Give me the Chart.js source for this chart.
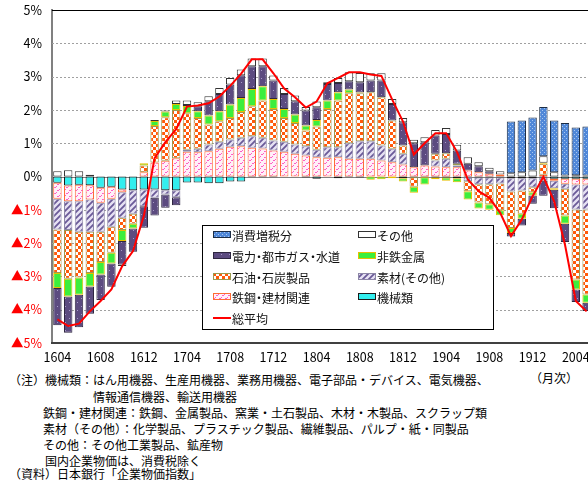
<!DOCTYPE html>
<html lang="ja">
<head>
<meta charset="utf-8">
<title>国内企業物価指数 前年比寄与度</title>
<script src="https://cdn.jsdelivr.net/npm/chart.js@4.4.1/dist/chart.umd.min.js"></script>
<style>
    html, body { margin: 0; padding: 0; background: #fff; }
    body { width: 588px; height: 481px; overflow: hidden; position: relative; font-family: "Noto Sans CJK JP", sans-serif; }
    #chartWrap { position: absolute; left: 0; top: 0; width: 600px; height: 367px; }
    .note { position: absolute; font-size: 12px; line-height: 16px; white-space: nowrap; color: #000; }
</style>
</head>
<body>
<div id="chartWrap"><canvas id="priceChart" width="600" height="367"></canvas></div>

<div class="note" style="left:9px; top:372px;">（注）機械類：はん用機器、生産用機器、業務用機器、電子部品・デバイス、電気機器、</div>
<div class="note" style="left:530px; top:370px;">（月次）</div>
<div class="note" style="left:93px; top:389px;">情報通信機器、輸送用機器</div>
<div class="note" style="left:43px; top:405px;">鉄鋼・建材関連：鉄鋼、金属製品、窯業・土石製品、木材・木製品、スクラップ類</div>
<div class="note" style="left:43px; top:421px;">素材（その他）：化学製品、プラスチック製品、繊維製品、パルプ・紙・同製品</div>
<div class="note" style="left:43px; top:437px;">その他：その他工業製品、鉱産物</div>
<div class="note" style="left:45px; top:453px;">国内企業物価は、消費税除く</div>
<div class="note" style="left:9px; top:466px;">（資料）日本銀行「企業物価指数」</div>

<script>
// months on the category axis (yymm)
const months = [
    '1604', '1605', '1606', '1607', '1608', '1609', '1610', '1611', '1612',
    '1701', '1702', '1703', '1704', '1705', '1706', '1707', '1708', '1709', '1710', '1711', '1712',
    '1801', '1802', '1803', '1804', '1805', '1806', '1807', '1808', '1809', '1810', '1811', '1812',
    '1901', '1902', '1903', '1904', '1905', '1906', '1907', '1908', '1909', '1910', '1911', '1912',
    '2001', '2002', '2003', '2004', '2005'
];
const tickMonths = ['1604', '1608', '1612', '1704', '1708', '1712', '1804', '1808', '1812', '1904', '1908', '1912', '2004'];

// contributions (% points)
const machinery = [
    -0.19, -0.27, -0.25, -0.26, -0.34, -0.31, -0.39, -0.41, -0.39, -0.39,
    -0.41, -0.41, -0.18, -0.18, -0.20, -0.20, -0.15, -0.15, -0.02, -0.02,
    -0.02, 0, 0, -0.03, -0.07, 0, -0.05, -0.02, -0.03, 0,
    0, 0, -0.05, -0.02, -0.02, -0.03, -0.03, -0.05, -0.02, -0.03,
    -0.03, -0.03, -0.05, -0.05, -0.05, -0.03, -0.07, -0.07, -0.07, -0.07
];
const steel = [
    -0.48, -0.47, -0.49, -0.43, -0.45, -0.36, -0.08, 0, 0.13, 0.42,
    0.47, 0.55, 0.74, 0.73, 0.76, 0.83, 0.89, 0.91, 0.86, 0.84,
    0.78, 0.74, 0.68, 0.63, 0.58, 0.56, 0.58, 0.53, 0.53, 0.53,
    0.48, 0.43, 0.36, 0.28, 0.33, 0.30, 0.28, 0.28, 0.18, 0.13,
    0.08, 0.06, 0, 0, 0, 0.05, -0.06, -0.15, -0.17, -0.17
];
const materials = [
    -0.92, -0.87, -0.92, -0.97, -0.87, -0.84, -0.77, -0.71, -0.50, -0.25,
    -0.13, -0.21, 0.06, 0.10, 0.20, 0.21, 0.22, 0.25, 0.35, 0.32,
    0.30, 0.30, 0.28, 0.28, 0.22, 0.32, 0.30, 0.47, 0.53, 0.53,
    0.45, 0.40, 0.32, 0, 0, 0.18, 0.25, 0.05, -0.12, -0.20,
    -0.20, -0.18, -0.40, -0.37, -0.27, -0.10, -0.22, -0.15, -0.75, -0.75
];
const oil = [
    -1.31, -1.46, -1.37, -1.24, -0.91, -0.78, -0.37, -0.30, 0.20, 1.10,
    1.31, 1.45, 1.10, 0.93, 0.60, 0.62, 0.65, 0.78, 0.90, 1.12,
    0.95, 0.72, 0.65, 0.47, 0.70, 1.15, 1.40, 1.50, 1.44, 1.47,
    1.45, 0.85, 0.25, -0.29, 0, 0.20, 0.17, 0.05, -0.30, -0.55,
    -0.60, -0.80, -1.10, -0.70, -0.15, 0.33, 0, -0.80, -2.10, -2.55
];
const nonferrous = [
    -0.45, -0.53, -0.52, -0.40, -0.37, -0.32, -0.33, -0.14, 0.07, 0.15,
    0.17, 0.18, 0.22, 0.20, 0.27, 0.30, 0.40, 0.42, 0.52, 0.43,
    0.30, 0.27, 0.25, 0.15, 0.20, 0.25, 0.25, 0.11, 0.02, -0.10,
    -0.08, -0.05, -0.10, -0.18, -0.22, -0.05, -0.10, -0.12, -0.25, -0.18,
    -0.17, -0.15, -0.15, -0.15, -0.10, 0.03, -0.05, -0.25, -0.30, -0.25
];
const power = [
    -1.12, -1.09, -0.98, -0.82, -0.77, -0.70, -0.70, -0.70, -0.65, -0.53,
    -0.40, -0.24, 0.03, 0.15, 0.43, 0.52, 0.60, 0.68, 0.68, 0.60,
    0.55, 0.45, 0.40, 0.45, 0.38, 0.50, 0.28, 0.25, 0.31, 0.35,
    0.50, 0.50, 0.70, 0.72, 0.70, 0.55, 0.58, 0.40, 0.20, 0.18,
    0.08, 0, -0.10, -0.20, -0.25, -0.45, -0.55, -0.55, -0.38, -0.25
];
const others = [
    0.16, 0.19, 0.16, 0.05, 0, 0, -0.05, 0, 0, 0.03,
    0.03, 0.10, 0.13, 0.12, 0.15, 0.18, 0.20, 0.17, 0.23, 0.23,
    0.15, 0.18, 0.17, 0.11, 0.17, 0.05, 0.15, 0.27, 0.28, 0.22,
    0.22, 0.15, 0.13, 0.10, 0.15, 0.17, 0.18, 0.17, 0.20, 0.12,
    0.10, 0.10, 0.10, 0.13, 0.18, 0.20, 0.13, 0.03, 0.04, 0.03
];
const taxHike = [
    0, 0, 0, 0, 0, 0, 0, 0, 0, 0,
    0, 0, 0, 0, 0, 0, 0, 0, 0, 0,
    0, 0, 0, 0, 0, 0, 0, 0, 0, 0,
    0, 0, 0, 0, 0, 0, 0, 0, 0, 0,
    0, 0, 1.55, 1.55, 1.59, 1.48, 1.55, 1.58, 1.43, 1.47
];
// overall average, year-on-year %
const average = [
    -4.29, -4.49, -4.42, -4.05, -3.74, -3.39, -2.69, -2.24, -1.19, 0.55,
    1.03, 1.42, 2.10, 2.13, 2.20, 2.40, 2.72, 3.08, 3.52, 3.52,
    3.10, 2.64, 2.38, 2.07, 2.25, 2.80, 2.96, 3.13, 3.13, 3.06,
    3.02, 2.31, 1.65, 0.66, 1.00, 1.30, 1.30, 0.74, -0.09, -0.44,
    -0.64, -1.09, -1.79, -1.29, -0.59, -0.01, -0.75, -2.05, -3.74, -4.05
];

const canvas = document.getElementById('priceChart');
const ctx = canvas.getContext('2d');
const axisFont = '"Liberation Sans Narrow", "Noto Sans CJK JP", sans-serif';

// small repeating tiles for the hatched fills
function makePattern(size, draw) {
    const tile = document.createElement('canvas');
    tile.width = size;
    tile.height = size;
    draw(tile.getContext('2d'), size);
    return ctx.createPattern(tile, 'repeat');
}

const taxFill = makePattern(4, function(g) {
    g.fillStyle = '#4f87d8';
    g.fillRect(0, 0, 4, 4);
    g.fillStyle = '#a9c8f0';
    g.fillRect(0, 0, 1, 1);
    g.fillRect(2, 2, 1, 1);
});
const powerFill = makePattern(8, function(g) {
    g.fillStyle = '#5c4b80';
    g.fillRect(0, 0, 8, 8);
    g.fillStyle = '#a89cc8';
    g.fillRect(1, 2, 1, 1);
    g.fillRect(5, 6, 1, 1);
});
const oilFill = makePattern(6, function(g) {
    g.fillStyle = '#ffffff';
    g.fillRect(0, 0, 6, 6);
    g.fillStyle = '#ff5a0a';
    g.fillRect(0, 0, 3, 3);
    g.fillRect(3, 3, 3, 3);
});
const steelFill = makePattern(6, function(g) {
    g.fillStyle = '#fff0f9';
    g.fillRect(0, 0, 6, 6);
    g.fillStyle = '#ff5cc4';
    g.fillRect(0, 1, 2, 1);
    g.fillRect(2, 0, 1, 1);
    g.fillRect(3, 4, 2, 1);
    g.fillRect(5, 3, 1, 1);
});
const materialsFill = makePattern(6, function(g) {
    g.fillStyle = '#e6e1f3';
    g.fillRect(0, 0, 6, 6);
    g.strokeStyle = '#6a5a98';
    g.lineWidth = 1.8;
    g.beginPath();
    g.moveTo(0, 6); g.lineTo(6, 0);
    g.moveTo(-3, 3); g.lineTo(3, -3);
    g.moveTo(3, 9); g.lineTo(9, 3);
    g.stroke();
});

function barSet(label, data, fill, edge) {
    return {
        type: 'bar',
        label: label,
        data: data,
        backgroundColor: fill,
        borderColor: edge,
        borderWidth: 1,
        borderSkipped: false,
        stack: 'parts',
        order: 1
    };
}

// grid, zero line and frame
const framePlugin = {
    id: 'framePlugin',
    beforeDatasetsDraw(chart) {
        const c = chart.ctx;
        const area = chart.chartArea;
        const y = chart.scales.y;
        c.save();
        c.lineWidth = 1;
        c.strokeStyle = '#a0a0a0';
        c.setLineDash([2, 2]);
        [4, 3, 2, 1, -1, -2, -3, -4].forEach(function(v) {
            const py = Math.round(y.getPixelForValue(v)) + 0.5;
            c.beginPath();
            c.moveTo(area.left, py);
            c.lineTo(area.right, py);
            c.stroke();
        });
        c.setLineDash([]);
        c.strokeStyle = '#808080';
        const zy = Math.round(y.getPixelForValue(0)) + 0.5;
        c.beginPath();
        c.moveTo(area.left, zy);
        c.lineTo(area.right, zy);
        c.stroke();
        c.restore();
    },
    afterDatasetsDraw(chart) {
        const c = chart.ctx;
        const area = chart.chartArea;
        const y = chart.scales.y;
        c.save();
        c.strokeStyle = '#000000';
        c.lineWidth = 1;
        const ty = Math.round(y.getPixelForValue(5)) + 0.5;
        c.beginPath();
        c.moveTo(area.left, ty);
        c.lineTo(area.right, ty);
        c.stroke();
        c.strokeStyle = '#404040';
        c.lineWidth = 2;
        c.beginPath();
        c.moveTo(area.left - 1, y.getPixelForValue(-5));
        c.lineTo(area.right, y.getPixelForValue(-5));
        c.stroke();
        c.restore();
    }
};

// draws text with a narrow middle dot, as in the original legend
function drawLegendText(c, text, x, y) {
    let cx = x;
    for (const ch of text) {
        if (ch === '・') {
            c.fillText(ch, cx - 3, y);
            cx += 6;
        } else {
            c.fillText(ch, cx, y);
            cx += c.measureText(ch).width;
        }
    }
}

// two-column legend box inside the plot
const legendPlugin = {
    id: 'legendPlugin',
    afterDraw(chart) {
        const c = chart.ctx;
        const sets = chart.data.datasets;
        const find = function(label) { return sets.find(function(d) { return d.label === label; }); };
        const columns = [
            { sx: 213, tx: 232, items: ['消費増税分', '電力・都市ガス・水道', '石油・石炭製品', '鉄鋼・建材関連', '総平均'] },
            { sx: 358, tx: 377, items: ['その他', '非鉄金属', '素材(その他)', '機械類'] }
        ];
        c.save();
        c.fillStyle = '#fff';
        c.fillRect(202, 225, 291, 104);
        c.strokeStyle = '#000';
        c.lineWidth = 1;
        c.strokeRect(202.5, 225.5, 291, 104);
        c.font = '12px "Noto Sans CJK JP"';
        c.textBaseline = 'middle';
        columns.forEach(function(col) {
            col.items.forEach(function(label, row) {
                const cy = Math.round(235 + row * 20.8);
                const d = find(label);
                if (d.type === 'line') {
                    c.strokeStyle = d.borderColor;
                    c.lineWidth = 2;
                    c.beginPath();
                    c.moveTo(col.sx, cy);
                    c.lineTo(col.sx + 18, cy);
                    c.stroke();
                } else {
                    c.fillStyle = d.backgroundColor;
                    c.fillRect(col.sx, cy - 3, 18, 6);
                    c.strokeStyle = d.borderColor;
                    c.lineWidth = 1;
                    c.strokeRect(col.sx + 0.5, cy - 3.5, 17, 6);
                }
                c.fillStyle = '#111';
                drawLegendText(c, label, col.tx, cy + 1);
            });
        });
        c.restore();
    }
};

new Chart(canvas, {
    data: {
        labels: months,
        datasets: [
            {
                type: 'line',
                label: '総平均',
                data: average,
                borderColor: '#ff0000',
                borderWidth: 2,
                pointRadius: 0,
                tension: 0,
                fill: false,
                stack: 'avg',
                order: 0
            },
            barSet('機械類', machinery, '#33eeee', '#1a1a1a'),
            barSet('鉄鋼・建材関連', steel, steelFill, '#ff6a33'),
            barSet('素材(その他)', materials, materialsFill, '#8c86a6'),
            barSet('石油・石炭製品', oil, oilFill, '#9a9a50'),
            barSet('非鉄金属', nonferrous, '#3cee3c', '#e6c000'),
            barSet('電力・都市ガス・水道', power, powerFill, '#2e2640'),
            barSet('その他', others, '#ffffff', '#333333'),
            barSet('消費増税分', taxHike, taxFill, '#1c2c44')
        ]
    },
    options: {
        responsive: false,
        animation: false,
        devicePixelRatio: 1,
        layout: { padding: { top: 10, right: 8, left: 0, bottom: 0 } },
        datasets: {
            bar: { categoryPercentage: 1, barPercentage: 0.78 }
        },
        plugins: {
            legend: { display: false },
            tooltip: { enabled: false }
        },
        scales: {
            x: {
                stacked: true,
                grid: { display: false, drawTicks: false },
                border: { display: false },
                ticks: {
                    autoSkip: false,
                    maxRotation: 0,
                    padding: 7,
                    color: '#000',
                    font: { family: axisFont, size: 12.5 },
                    callback: function(value, index) {
                        return tickMonths.includes(months[index]) ? months[index] : '';
                    }
                },
                afterFit: function(scale) {
                    scale.height = 24;
                    scale.paddingLeft = 0;
                    scale.paddingRight = 0;
                }
            },
            y: {
                stacked: true,
                min: -5,
                max: 5,
                grid: { display: false, drawTicks: false },
                border: { display: true, color: '#808080', width: 2 },
                ticks: {
                    stepSize: 1,
                    padding: 10,
                    font: { family: axisFont, size: 12.5 },
                    color: function(c) { return c.tick && c.tick.value < 0 ? '#ff0000' : '#000000'; },
                    callback: function(value) {
                        return value < 0 ? '▲' + (-value) + '%' : value + '%';
                    }
                },
                afterFit: function(scale) {
                    scale.width = 52;
                    scale.paddingTop = 0;
                    scale.paddingBottom = 0;
                }
            }
        }
    },
    plugins: [framePlugin, legendPlugin]
});
</script>
</body>
</html>
